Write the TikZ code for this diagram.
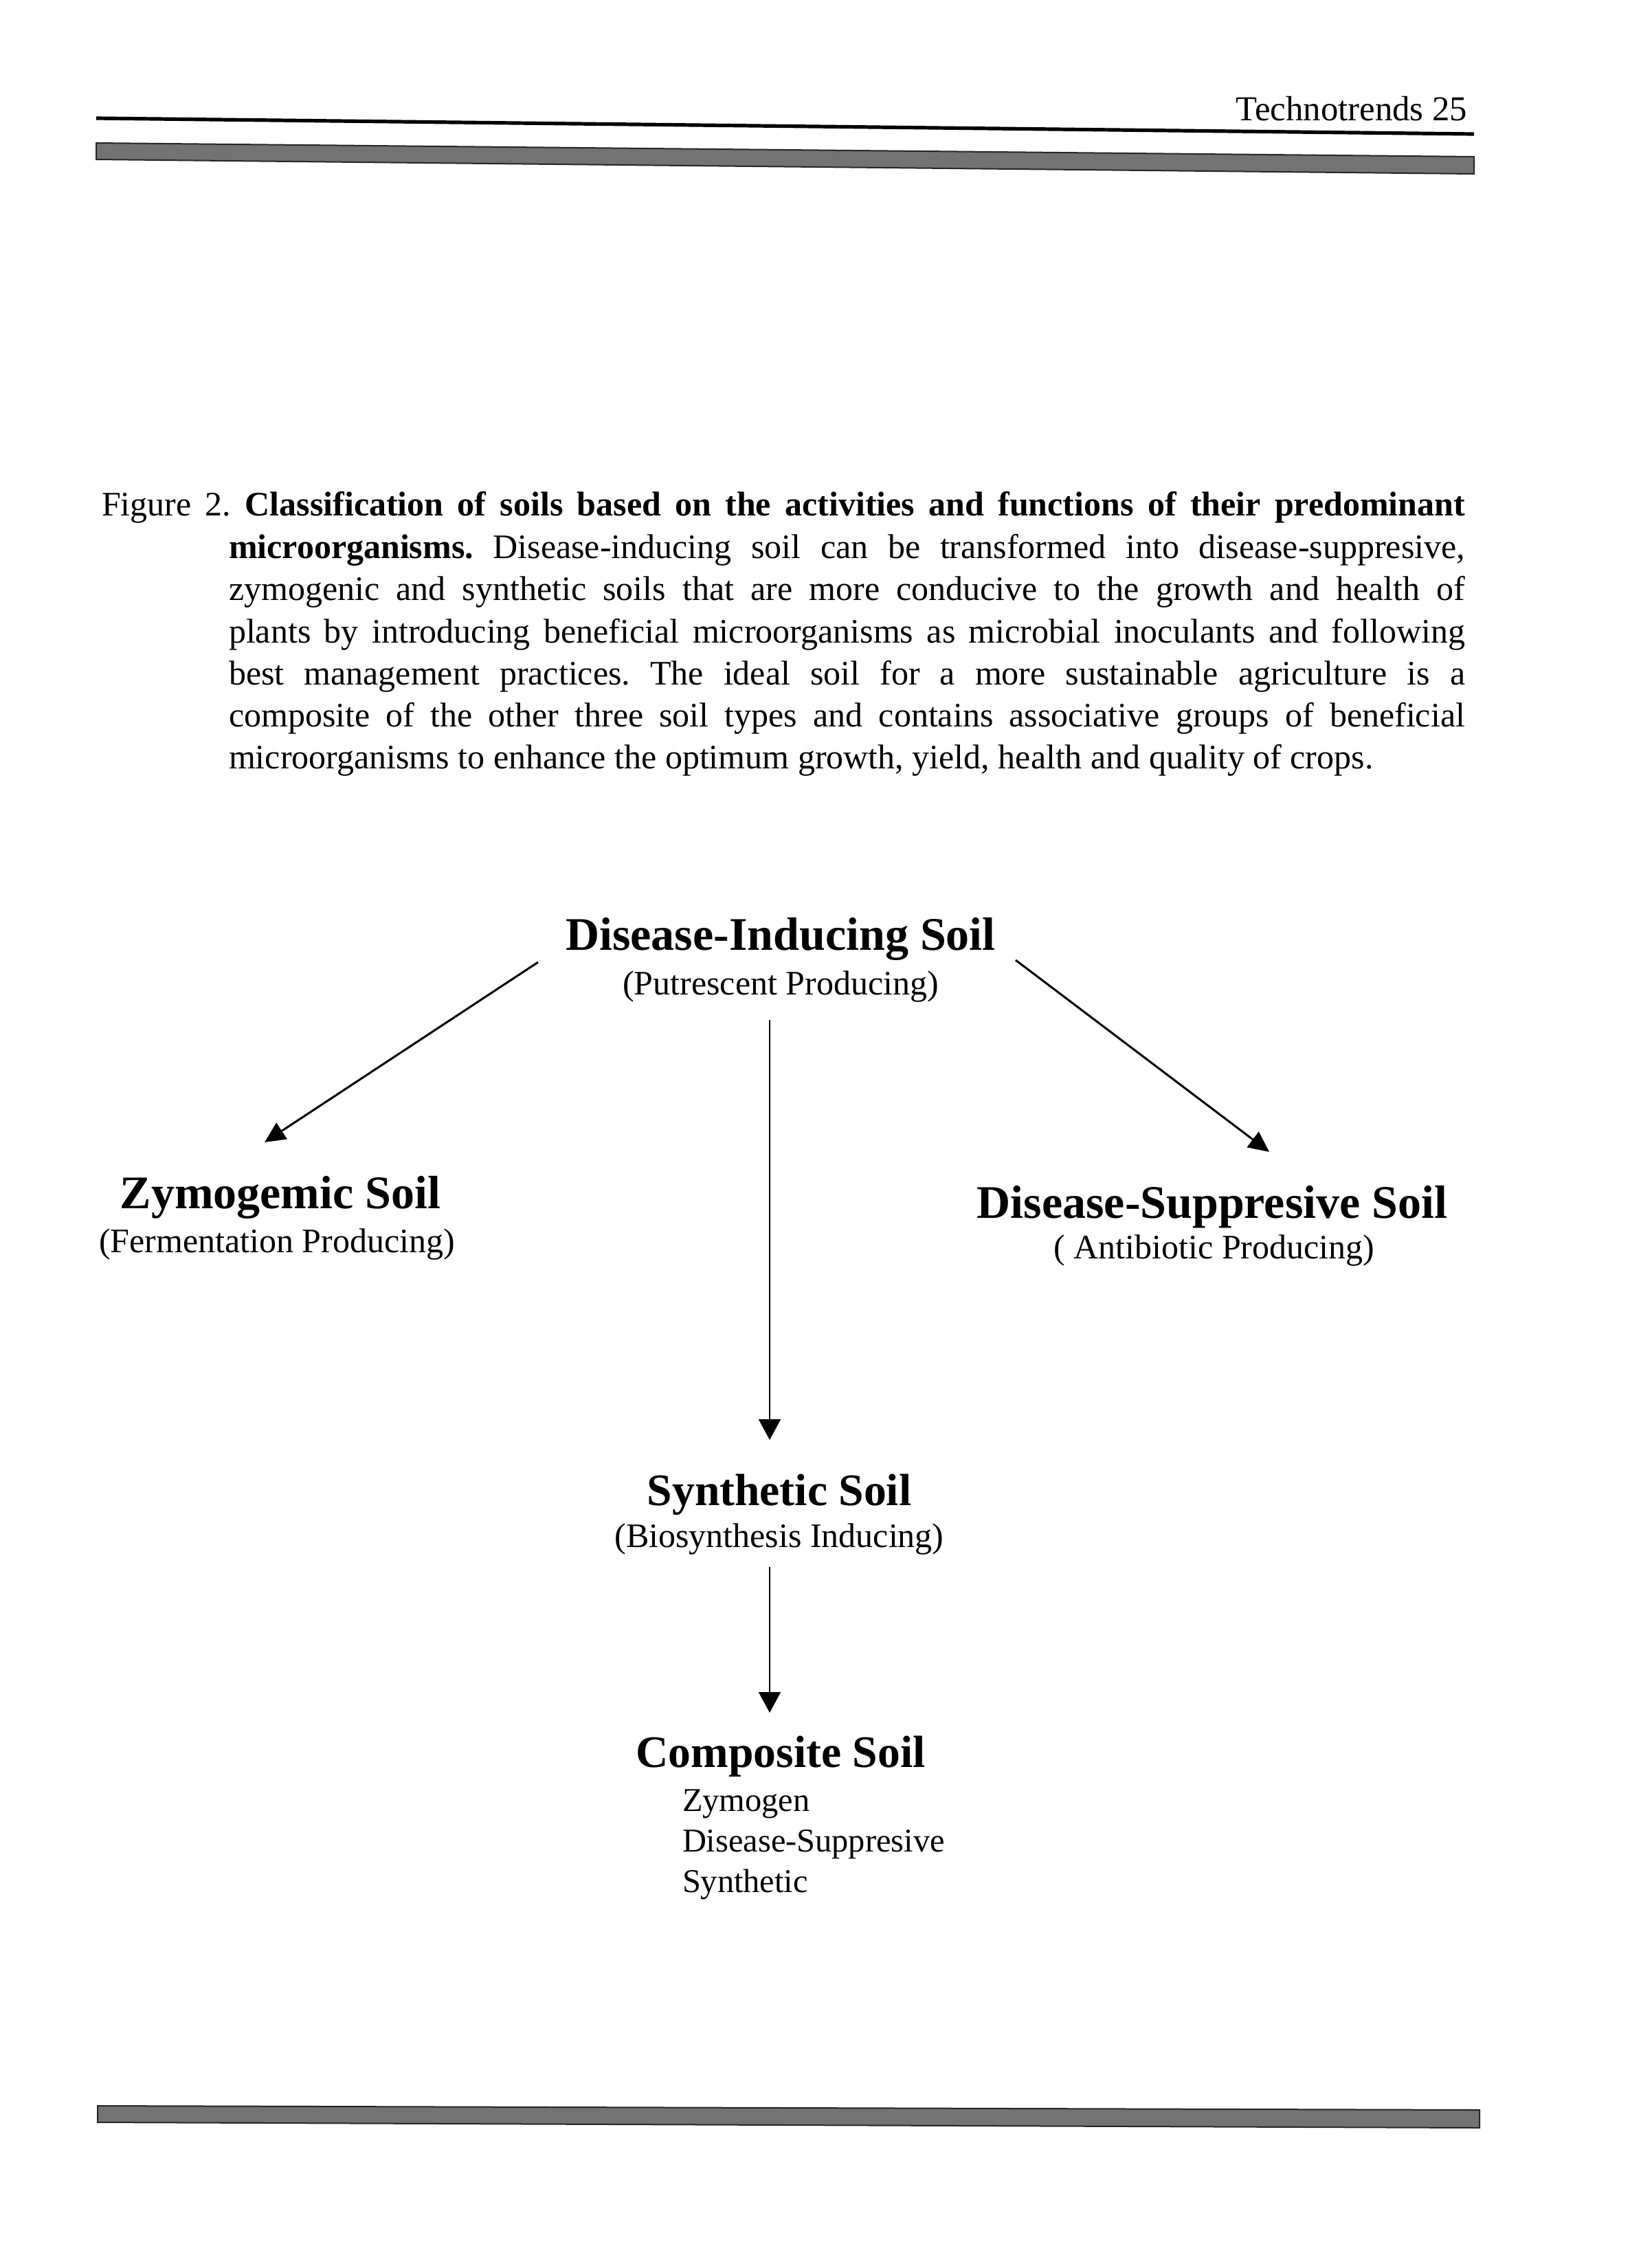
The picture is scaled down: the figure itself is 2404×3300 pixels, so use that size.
\documentclass[tikz,border=0pt]{standalone}
\usepackage{fontspec}
\setmainfont{Liberation Serif}
\usetikzlibrary{arrows.meta}
\frenchspacing
\begin{document}
\begin{tikzpicture}[x=0.25pt,y=-0.25pt,
  txt/.style={inner sep=0pt, outer sep=0pt},
  captext/.style={txt, anchor=base west, font=\fontsize{12.5}{15}\selectfont},
  hdbig/.style={txt, anchor=base, font=\fontsize{17}{20}\selectfont\bfseries},
  hdmid/.style={txt, anchor=base, font=\fontsize{16.4}{20}\selectfont\bfseries},
  sublab/.style={txt, anchor=base, font=\fontsize{12.5}{15}\selectfont},
  listlab/.style={txt, anchor=base west, font=\fontsize{12.1}{15}\selectfont},
  diagarrow/.style={line width=0.75pt, -{Triangle[length=7.5pt,width=7pt]}},
  vertarrow/.style={line width=0.5pt, -{Triangle[length=7.5pt,width=8pt]}},
  band/.style={fill=black!55, draw=black!85, line width=0.5pt}
]
\fill[white] (0,0) rectangle (2404,3300);
\useasboundingbox (0,0) rectangle (2404,3300);

% header
\node[txt, anchor=base east, font=\fontsize{12.7}{15}\selectfont] (hdr) at (2135,175) {Technotrends 25};
\draw[line width=1.3pt] (140,172) -- (2145,195);
\path[band] (140,208) -- (2145,228) -- (2145,253) -- (140,232) -- cycle;

% caption
\node[captext] (c1) at (148,750) {\makebox[496pt][s]{Figure 2. \textbf{Classification of soils based on the activities and functions of their predominant}}};
\node[captext] (c2) at (333,812) {\makebox[449.75pt][s]{\textbf{microorganisms.} Disease-inducing soil can be transformed into disease-suppresive,}};
\node[captext] (c3) at (333,873) {\makebox[449.75pt][s]{zymogenic and synthetic soils that are more conducive to the growth and health of}};
\node[captext] (c4) at (333,935) {\makebox[449.75pt][s]{plants by introducing beneficial microorganisms as microbial inoculants and following}};
\node[captext] (c5) at (333,996) {\makebox[449.75pt][s]{best management practices. The ideal soil for a more sustainable agriculture is a}};
\node[captext] (c6) at (333,1057) {\makebox[449.75pt][s]{composite of the other three soil types and contains associative groups of beneficial}};
\node[captext] (c7) at (333,1118) {microorganisms to enhance the optimum growth, yield, health and quality of crops.};

% diagram nodes
\node[hdbig] (di) at (1136,1382) {Disease-Inducing Soil};
\node[sublab] (dip) at (1136,1447) {(Putrescent Producing)};
\node[hdbig] (zs) at (408,1758) {Zymogemic Soil};
\node[sublab] (zsp) at (403,1822) {(Fermentation Producing)};
\node[hdbig] (ds) at (1764,1772) {Disease-Suppresive Soil};
\node[sublab] (dsp) at (1767,1831) {( Antibiotic Producing)};
\node[hdmid] (ss) at (1134,2190) {Synthetic Soil};
\node[sublab] (ssp) at (1134,2251) {(Biosynthesis Inducing)};
\node[hdmid] (cs) at (1136,2571) {Composite Soil};
\node[listlab] (l1) at (993,2635) {Zymogen};
\node[listlab] (l2) at (993,2694) {Disease-Suppresive};
\node[listlab] (l3) at (993,2753) {Synthetic};

% connector end points
\coordinate (diL) at (783,1400);
\coordinate (zsT) at (385,1662);
\coordinate (diR) at (1478,1397);
\coordinate (dsT) at (1847,1676);
\coordinate (diB) at (1120,1484);
\coordinate (ssT) at (1120,2095);
\coordinate (ssB) at (1120,2280);
\coordinate (csT) at (1120,2492);

\draw[diagarrow] (diL) -- (zsT);
\draw[diagarrow] (diR) -- (dsT);
\draw[vertarrow] (diB) -- (ssT);
\draw[vertarrow] (ssB) -- (csT);

% footer band
\path[band] (142,3064) -- (2153,3070) -- (2153,3096) -- (142,3088) -- cycle;
\end{tikzpicture}
\end{document}
